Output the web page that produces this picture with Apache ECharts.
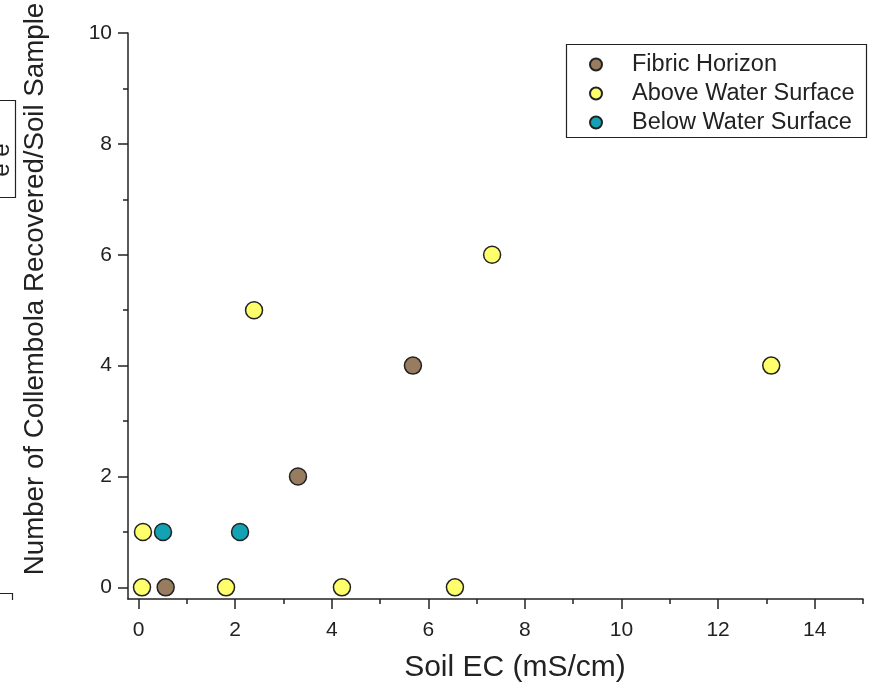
<!DOCTYPE html>
<html>
<head>
<meta charset="utf-8">
<script src="https://cdn.jsdelivr.net/npm/echarts@6/dist/echarts.min.js"></script>
<style>html,body{margin:0;padding:0;background:#fff;}#c{width:872px;height:687px;}</style>
</head>
<body>
<div id="c"></div>
<script>
const seriesNames = ['Fibric Horizon', 'Above Water Surface', 'Below Water Surface'];
const fibricHorizon = [[0.56, 0], [3.30, 2], [5.68, 4]];
const aboveWater = [[0.07, 0], [0.09, 1], [1.81, 0], [2.39, 5], [4.21, 0], [6.55, 0], [7.32, 6], [13.10, 4]];
const belowWater = [[0.505, 1], [2.10, 1]];
const xMajorTicks = [0, 2, 4, 6, 8, 10, 12, 14];
const xMinorTicks = [1, 3, 5, 7, 9, 11, 13, 15];
const yMajorTicks = [0, 2, 4, 6, 8, 10];
const yMinorTicks = [1, 3, 5, 7, 9];
const xTitle = 'Soil EC (mS/cm)';
const yTitle = 'Number of Collembola Recovered/Soil Sample';

const FONT = "'Liberation Sans', Arial, sans-serif";
const INK = '#222';
const colors = ['#977c5f', '#ffff6b', '#13a1b4'];
const X_MIN = -0.22, X_MAX = 15, Y_MIN = -0.21, Y_MAX = 10;

const chart = echarts.init(document.getElementById('c'), null, {renderer: 'canvas'});

function baseAxis(extra) {
  return Object.assign({
    type: 'value',
    splitLine: {show: false},
    axisLine: {show: true, onZero: false, lineStyle: {color: INK, width: 1.5}},
  }, extra);
}

const option = {
  backgroundColor: '#fff',
  animation: false,
  grid: {left: 128, right: 9, top: 33, bottom: 88, containLabel: false},
  xAxis: [
    baseAxis({
      position: 'bottom', min: X_MIN, max: X_MAX,
      axisTick: {show: true, inside: false, length: 10, customValues: xMajorTicks, lineStyle: {color: INK, width: 1.5}},
      axisLabel: {show: true, customValues: xMajorTicks, margin: 21, fontSize: 21, fontFamily: FONT, color: INK}
    }),
    baseAxis({
      position: 'bottom', offset: 0, min: X_MIN, max: X_MAX,
      axisLine: {show: false, onZero: false},
      axisTick: {show: true, inside: false, length: 5, customValues: xMinorTicks, lineStyle: {color: INK, width: 1.5}},
      axisLabel: {show: false}
    })
  ],
  yAxis: [
    baseAxis({
      position: 'left', min: Y_MIN, max: Y_MAX,
      axisTick: {show: true, inside: false, length: 10, customValues: yMajorTicks, lineStyle: {color: INK, width: 1.5}},
      axisLabel: {show: true, customValues: yMajorTicks, margin: 16, fontSize: 21, fontFamily: FONT, color: INK}
    }),
    baseAxis({
      position: 'left', offset: 0, min: Y_MIN, max: Y_MAX,
      axisLine: {show: false, onZero: false},
      axisTick: {show: true, inside: false, length: 5, customValues: yMinorTicks, lineStyle: {color: INK, width: 1.5}},
      axisLabel: {show: false}
    })
  ],
  legend: {
    orient: 'vertical',
    left: 589, top: 50,
    padding: 0,
    itemGap: 0,
    itemWidth: 12, itemHeight: 12,
    icon: 'circle',
    data: seriesNames,
    textStyle: {fontSize: 23.5, fontFamily: FONT, color: INK, lineHeight: 29, padding: [0, 0, 0, 25]}
  },
  series: [
    {name: seriesNames[0], data: fibricHorizon},
    {name: seriesNames[1], data: aboveWater},
    {name: seriesNames[2], data: belowWater}
  ].map((s, i) => ({
    name: s.name, type: 'scatter', data: s.data,
    xAxisIndex: 0, yAxisIndex: 0,
    symbol: 'circle', symbolSize: 17,
    itemStyle: {color: colors[i], borderColor: '#222', borderWidth: 1.5, opacity: 1},
    emphasis: {disabled: true}
  })),
  graphic: [
    {type: 'rect', shape: {x: 566.5, y: 44.5, width: 300, height: 93}, style: {fill: 'none', stroke: INK, lineWidth: 1.2}, silent: true},
    {type: 'text', x: 515, y: 668, style: {text: xTitle, font: "30px " + FONT, fill: INK, align: 'center', verticalAlign: 'middle'}, silent: true},
    {type: 'text', x: 35, y: 289, rotation: Math.PI / 2, style: {text: yTitle, font: "27.7px " + FONT, fill: INK, align: 'center', verticalAlign: 'middle'}, silent: true},
    // fragments of neighbouring panel at the left edge
    {type: 'rect', shape: {x: -10, y: 100.5, width: 25.5, height: 97}, style: {fill: 'none', stroke: INK, lineWidth: 1.2}, silent: true},
    {type: 'text', x: 2, y: 160, rotation: Math.PI / 2, style: {text: 'e e', font: "24px " + FONT, fill: INK, align: 'center', verticalAlign: 'middle'}, silent: true},
    {type: 'polyline', shape: {points: [[0, 593.5], [12.5, 593.5], [12.5, 600]]}, style: {fill: 'none', stroke: INK, lineWidth: 1.2}, silent: true}
  ]
};
chart.setOption(option);
</script>
</body>
</html>
